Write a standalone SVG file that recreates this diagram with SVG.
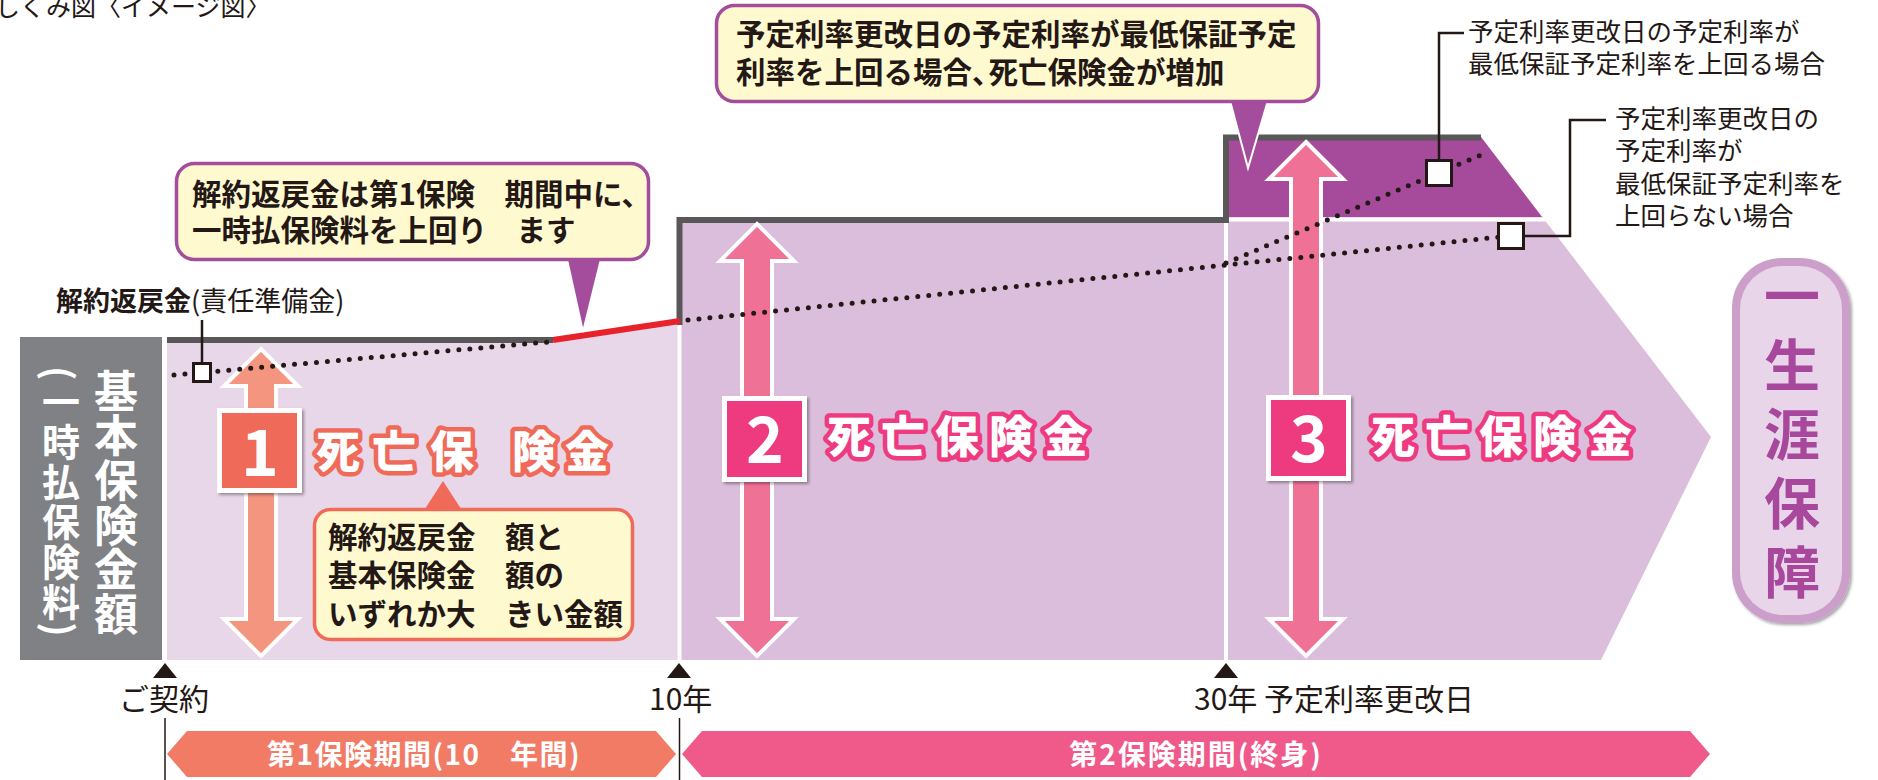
<svg xmlns="http://www.w3.org/2000/svg" width="1878" height="780" viewBox="0 0 1878 780">
<defs>
<style>
text{font-family:"Noto Sans CJK JP","Noto Sans",sans-serif;fill:#231815}
.b{font-weight:700}
.co{fill:#fff9d0;stroke-width:3.5}
.ct{font-size:29.5px;font-weight:700}
.dots{fill:none;stroke:#231815;stroke-width:5;stroke-dasharray:0 11;stroke-linecap:round}
.sq{fill:#fff;stroke:#231815;stroke-width:3}
.lead{fill:none;stroke:#231815;stroke-width:2.5}
.tick{fill:#231815}
.tl{font-size:30px}
.num{font-size:64px;font-weight:700;fill:#fff;text-anchor:middle}
.dm{font-size:44px;font-weight:900;fill:#fff;stroke-width:9;paint-order:stroke;stroke-linejoin:round;text-anchor:middle}
.arr{stroke:#fff;stroke-width:4;stroke-miterlimit:10}
.nbox{stroke:#fff;stroke-width:5}
.bar{font-size:28px;font-weight:700;fill:#fff;letter-spacing:2px;text-anchor:middle}
.side{font-size:25.5px}
.wl{stroke:#fff;stroke-width:4}
.vt{writing-mode:vertical-rl;font-weight:700}
</style>
<filter id="sh" x="-20%" y="-20%" width="140%" height="140%"><feDropShadow dx="2" dy="2" stdDeviation="1.5" flood-color="#000" flood-opacity="0.35"/></filter>
</defs>
<rect width="1878" height="780" fill="#fff"/>
<text x="-5" y="16" font-size="25">しくみ図〈イメージ図〉</text>

<g id="regions">
<polygon points="679,220 1226,220 1226,137 1481,137 1711,437 1601,660 679,660" fill="#dbbedb"/>
<polygon points="1226,137 1481,137 1542,217 1226,217" fill="#a64a9b"/>
<line class="wl" x1="1226" y1="219.5" x2="1546" y2="219.5"/>
<polygon points="167,340 553,340 679,321 679,660 167,660" fill="#e8d6e9"/>
<line class="wl" x1="679.5" y1="323" x2="679.5" y2="660"/>
<line class="wl" x1="1226" y1="222" x2="1226" y2="660"/>
<polyline points="679.5,325 679.5,220 1226,220 1226,137.5 1481,137.5" fill="none" stroke="#595757" stroke-width="6"/>
<line x1="167" y1="340" x2="553" y2="340" stroke="#595757" stroke-width="6"/>
<line x1="553" y1="340" x2="680" y2="321" stroke="#e8222a" stroke-width="6"/>
</g>

<g id="base-box">
<rect x="20" y="337" width="142" height="323" fill="#808184"/>
<text class="vt" x="116" y="369" font-size="44" letter-spacing="0.6" style="fill:#fff">基本保険金額</text>
<text class="vt" x="61" y="366" font-size="38" letter-spacing="2" style="fill:#fff">(一時払保険料)</text>
</g>

<g id="arrow1">
<polygon class="arr" fill="#f4957f" points="261,349 298,386 276,386 276,619 298,619 261,656 224,619 246,619 246,386 224,386"/>
</g>
<g id="arrow2">
<polygon class="arr" fill="#ef7196" points="757,224 794,261 772,261 772,619 794,619 757,656 720,619 742,619 742,261 720,261"/>
</g>
<g id="arrow3">
<polygon class="arr" fill="#ef7196" points="1306,142 1343,179 1321,179 1321,619 1343,619 1306,656 1269,619 1291,619 1291,179 1269,179"/>
</g>

<g id="connectors">
<polyline class="dots" points="174,375 548,342"/>
<polyline class="dots" points="688,320 1510,236"/>
<polyline class="dots" points="1226,263 1488,152"/>
<polyline class="lead" points="202,320 202,364"/>
<polyline class="lead" points="1439,160 1439,33 1464,33"/>
<polyline class="lead" points="1524,236 1570,236 1570,120 1606,120"/>
</g>

<g id="markers">
<rect class="sq" x="193.5" y="363.5" width="17" height="18"/>
<rect class="sq" x="1426.5" y="160.5" width="25" height="25"/>
<rect class="sq" x="1498.5" y="223.5" width="25" height="25"/>
</g>

<g id="label-surrender">
<text x="56" y="311" font-size="27"><tspan class="b">解約返戻金</tspan><tspan>(責任準備金)</tspan></text>
</g>

<g id="callout1">
<polygon points="566,255 602,255 583,332" fill="#a54d9d" stroke="#fff" stroke-width="2"/>
<rect class="co" x="176.5" y="163.5" width="472" height="96" rx="18" stroke="#a54d9d"/>
<text class="ct" x="192" y="205">解約返戻金は第1保険　期間中に、</text>
<text class="ct" x="192" y="241">一時払保険料を上回り　ます</text>
</g>

<g id="callout2">
<polygon points="1229,97 1269,97 1248,168" fill="#a54d9d" stroke="#fff" stroke-width="2"/>
<rect class="co" x="716.5" y="5.5" width="602" height="96" rx="18" stroke="#a54d9d"/>
<text class="ct" x="736" y="45">予定利率更改日の予定利率が最低保証予定</text>
<text class="ct" x="736" y="83">利率を上回る場合、<tspan dx="-13">死亡保険金が増加</tspan></text>
</g>

<g id="box1">
<rect class="nbox" x="219.5" y="410.5" width="80" height="80" fill="#ef6a58" filter="url(#sh)"/>
<text class="num" x="260" y="476">1</text>
<text class="dm" stroke="#ef6a58" x="338 394 452 494 534 587" y="468">死亡保　険金</text>
</g>
<g id="box2">
<rect class="nbox" x="724.5" y="398.5" width="80" height="81" fill="#ee3a80" filter="url(#sh)"/>
<text class="num" x="765" y="463">2</text>
<text class="dm" stroke="#ee3a80" x="849 903 957 1011 1066" y="453">死亡保険金</text>
</g>
<g id="box3">
<rect class="nbox" x="1268.5" y="397.5" width="80" height="81" fill="#ee3a80" filter="url(#sh)"/>
<text class="num" x="1309" y="462">3</text>
<text class="dm" stroke="#ee3a80" x="1393 1447 1501 1555 1610" y="453">死亡保険金</text>
</g>

<g id="callout3">
<polygon points="423,512 463,512 443,481" fill="#ef6a58"/>
<rect class="co" x="314.5" y="509.5" width="318" height="130" rx="16" stroke="#ef6a58"/>
<text class="ct" x="328" y="548">解約返戻金　額と</text>
<text class="ct" x="328" y="586">基本保険金　額の</text>
<text class="ct" x="328" y="625">いずれか大　きい金額</text>
</g>

<g id="note-above">
<text class="side" x="1468" y="41">予定利率更改日の予定利率が</text>
<text class="side" x="1468" y="73">最低保証予定利率を上回る場合</text>
</g>
<g id="note-below">
<text class="side" x="1615" y="128">予定利率更改日の</text>
<text class="side" x="1615" y="160">予定利率が</text>
<text class="side" x="1615" y="193">最低保証予定利率を</text>
<text class="side" x="1615" y="225">上回らない場合</text>
</g>

<g id="lifetime">
<rect x="1732" y="258" width="118" height="365" rx="50" fill="#cb9fca" filter="url(#sh)"/>
<rect x="1740" y="266" width="102" height="349" rx="43" fill="#e9d5e9"/>
<text class="vt" x="1792" y="268" font-size="56" letter-spacing="13" style="fill:#a7489c">一生涯保障</text>
</g>

<g id="timeline">
<polygon class="tick" points="165,663 177,678 153,678"/>
<polygon class="tick" points="679,663 691,678 667,678"/>
<polygon class="tick" points="1226,663 1238,678 1214,678"/>
<text class="tl" x="119" y="710">ご契約</text>
<text class="tl" x="649" y="710">10年</text>
<text class="tl" x="1194" y="710">30年 予定利率更改日</text>
<line x1="165" y1="718" x2="165" y2="780" stroke="#231815" stroke-width="1.5"/>
<line x1="679.5" y1="718" x2="679.5" y2="780" stroke="#231815" stroke-width="1.5"/>
</g>

<g id="period1">
<polygon points="167,754 187,731 656,731 676,754 656,777 187,777" fill="#f27b66"/>
<text class="bar" x="424" y="765" style="letter-spacing:1.5px">第1保険期間(10　年間)</text>
</g>
<g id="period2">
<polygon points="682,754 702,731 1690,731 1710,754 1690,777 702,777" fill="#ef5a8b"/>
<text class="bar" x="1196" y="765">第2保険期間(終身)</text>
</g>
</svg>
